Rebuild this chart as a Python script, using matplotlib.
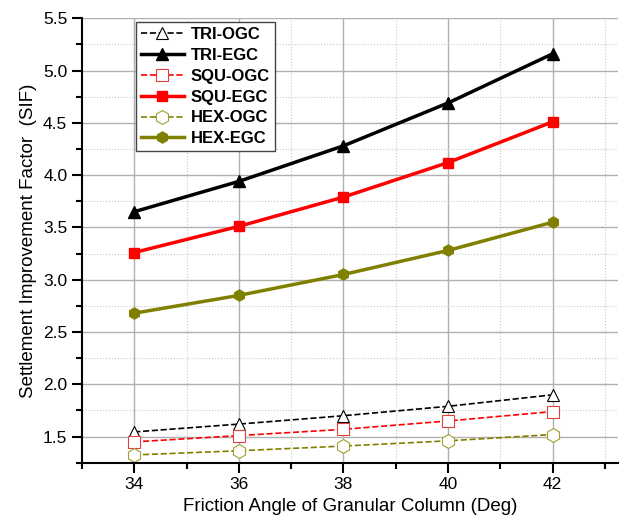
import matplotlib.pyplot as plt
from matplotlib.ticker import MultipleLocator

plt.rcParams['font.family'] = ['Liberation Sans', 'DejaVu Sans']

angle = [34, 36, 38, 40, 42]
tri_ogc = [1.545, 1.62, 1.70, 1.79, 1.90]
tri_egc = [3.65, 3.94, 4.28, 4.69, 5.16]
squ_ogc = [1.45, 1.51, 1.57, 1.65, 1.74]
squ_egc = [3.26, 3.51, 3.79, 4.12, 4.51]
hex_ogc = [1.325, 1.365, 1.41, 1.46, 1.52]
hex_egc = [2.68, 2.85, 3.05, 3.28, 3.55]

olive = '#808000'

fig = plt.figure(figsize=(6.25, 5.2), dpi=100)
ax = fig.add_axes([0.131, 0.110, 0.858, 0.855])

ax.plot(angle, tri_ogc, '--', color='black', lw=1.2, marker='^', ms=9,
        mfc='white', mec='black', mew=0.8, label='TRI-OGC')
ax.plot(angle, tri_egc, '-', color='black', lw=2.5, marker='^', ms=8,
        label='TRI-EGC')
ax.plot(angle, squ_ogc, '--', color='red', lw=1.2, marker='s', ms=8,
        mfc='white', mec='#e04040', mew=0.8, label='SQU-OGC')
ax.plot(angle, squ_egc, '-', color='red', lw=2.5, marker='s', ms=7,
        label='SQU-EGC')
ax.plot(angle, hex_ogc, '--', color=olive, lw=1.2, marker='h', ms=10,
        mfc='white', mec='#a0a030', mew=0.8, label='HEX-OGC')
ax.plot(angle, hex_egc, '-', color=olive, lw=2.5, marker='h', ms=8,
        label='HEX-EGC')

ax.set_xlim(33.0, 43.25)
ax.set_ylim(1.25, 5.5)
ax.xaxis.set_major_locator(MultipleLocator(2))
ax.xaxis.set_minor_locator(MultipleLocator(1))
ax.yaxis.set_major_locator(MultipleLocator(0.5))
ax.yaxis.set_minor_locator(MultipleLocator(0.25))
ax.set_xticks([34, 36, 38, 40, 42])
ax.yaxis.set_major_formatter(plt.FormatStrFormatter('%.1f'))

ax.grid(which='major', color='#b0b0b0', lw=1.0, ls='-')
ax.grid(which='minor', color='#c8c8c8', lw=0.8, ls=':')
ax.set_axisbelow(True)

ax.spines['top'].set_visible(False)
ax.spines['right'].set_visible(False)
ax.spines['left'].set_linewidth(1.5)
ax.spines['bottom'].set_linewidth(1.5)
ax.tick_params(which='major', direction='out', length=7, width=1.5, labelsize=12.5)
ax.tick_params(which='minor', direction='out', length=4, width=1.5)

ax.set_xlabel('Friction Angle of Granular Column (Deg)', fontsize=13.5)
ax.set_ylabel('Settlement Improvement Factor  (SIF)', fontsize=13.5)

leg = ax.legend(loc='upper left', bbox_to_anchor=(0.085, 1.01), fancybox=False,
                edgecolor='#444444', framealpha=1, prop={'weight': 'bold', 'size': 12},
                handlelength=2.6, labelspacing=0.35, borderpad=0.3,
                handletextpad=0.4)
leg.get_frame().set_linewidth(1.0)

fig.savefig('out.png', dpi=100)
